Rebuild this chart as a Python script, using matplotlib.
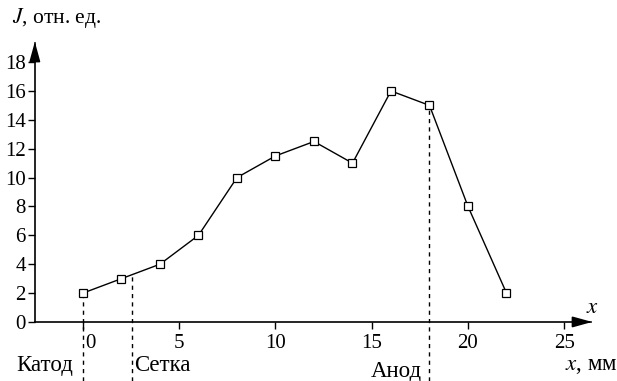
import matplotlib
matplotlib.use("Agg")
import matplotlib.pyplot as plt
import matplotlib.transforms as mtransforms

# Распределение интенсивности вдоль промежутка катод - анод
x_mm = [0, 2, 4, 6, 8, 10, 12, 14, 16, 18, 20, 22]
J = [2, 3, 4, 6, 10, 11.5, 12.5, 11, 16, 15, 8, 2]

x_ticks = [0, 5, 10, 15, 20, 25]
y_ticks = [0, 2, 4, 6, 8, 10, 12, 14, 16, 18]

# положения электродов, мм
x_katod = 0
x_setka = 2.55
x_anod = 18

plt.rcParams["font.family"] = ["Liberation Serif", "DejaVu Serif"]
plt.rcParams["mathtext.fontset"] = "stix"
plt.rcParams["font.size"] = 15

fig = plt.figure(figsize=(6.17, 3.81), dpi=100)
ax = fig.add_axes([0, 0, 1, 1])
ax.set_xlim(-4.31, 27.74)
ax.set_ylim(-4.09, 22.3)
ax.patch.set_visible(False)

for s in ("top", "right"):
    ax.spines[s].set_visible(False)
ax.spines["left"].set_position(("data", -2.5))
ax.spines["bottom"].set_position(("data", 0))
ax.spines["left"].set_bounds(0, 19.3)
ax.spines["bottom"].set_bounds(-2.5, 26.4)
ax.spines["left"].set_linewidth(1.2)
ax.spines["bottom"].set_linewidth(1.2)

# стрелки осей
ax.annotate("", xy=(26.6, 0), xytext=(25.6, 0),
            arrowprops=dict(arrowstyle="-|>,head_length=0.8,head_width=0.22", color="black", lw=1.2),
            annotation_clip=False)
ax.annotate("", xy=(-2.5, 19.6), xytext=(-2.5, 18.6),
            arrowprops=dict(arrowstyle="-|>,head_length=0.8,head_width=0.22", color="black", lw=1.2),
            annotation_clip=False)

ax.set_xticks(x_ticks)
ax.set_yticks(y_ticks)
ax.tick_params(direction="out", length=5, width=1, pad=1.5, labelsize=15)
ax.tick_params(axis="x", pad=3.5)
lbl0 = ax.get_xticklabels()[0]
lbl0.set_transform(lbl0.get_transform() + mtransforms.ScaledTranslation(7 / 100, 0, fig.dpi_scale_trans))

ax.plot(x_mm, J, color="black", lw=1, marker="s", markersize=5.5,
        markerfacecolor="white", markeredgecolor="black", markeredgewidth=0.9, zorder=3)

# штриховые линии электродов
y_setka = J[1] + (J[2] - J[1]) * (x_setka - x_mm[1]) / (x_mm[2] - x_mm[1])
ax.vlines(x_katod, -4.1, J[0], colors="black", linestyles=(0, (3, 3)), lw=1, clip_on=False)
ax.vlines(x_setka, -4.1, y_setka, colors="black", linestyles=(0, (3, 3)), lw=1, clip_on=False)
ax.vlines(x_anod, -4.1, J[9], colors="black", linestyles=(0, (3, 3)), lw=1, clip_on=False)

ax.text(-2.0, -3.05, "Катод", ha="center", va="center", fontsize=16.5)
ax.text(4.1, -3.05, "Сетка", ha="center", va="center", fontsize=16.5)
ax.text(16.26, -3.45, "Анод", ha="center", va="center", fontsize=16.5)
ax.text(26.42, -3.05, "$x$, мм", ha="center", va="center", fontsize=16.5)
ax.text(26.44, 0.97, "$x$", ha="center", va="center", fontsize=16.5)
ax.text(-3.69, 21.05, "$J$, отн. ед.", ha="left", va="center", fontsize=15.5)

fig.savefig("out.png", dpi=100)
